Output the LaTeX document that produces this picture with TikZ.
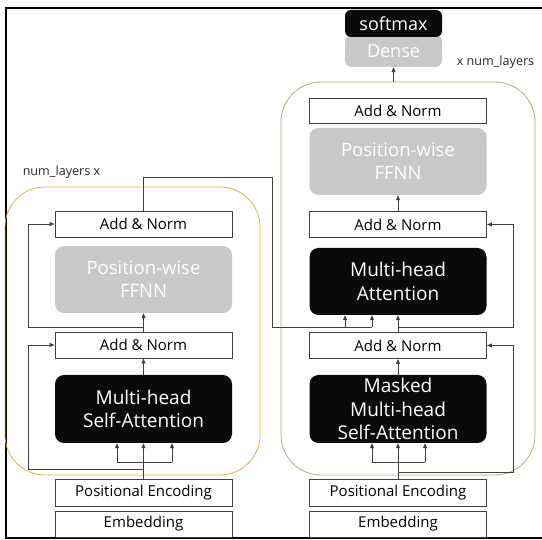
\documentclass[tikz,border=0pt]{standalone}
\usepackage{fontspec}
\setmainfont{Open Sans}
\usetikzlibrary{arrows.meta}

\definecolor{linegray}{HTML}{404040}
\definecolor{boxblack}{HTML}{0A0A0A}
\definecolor{boxgray}{HTML}{C8C8C8}
\definecolor{encgold}{HTML}{D9B43E}
\definecolor{decgold}{HTML}{BBA57A}

\tikzset{
  plainbox/.style={draw=linegray, line width=0.9pt, fill=white, text=black,
    minimum width=177pt, minimum height=26pt, inner sep=0pt,
    font=\fontsize{15}{18}\selectfont},
  darkbox/.style={fill=boxblack, rounded corners=9pt, text=white, align=center,
    minimum width=177pt, inner sep=0pt, font=\fontsize{19}{23.5}\selectfont},
  lightbox/.style={fill=boxgray, rounded corners=9pt, text=white, align=center,
    minimum width=177pt, inner sep=0pt, font=\fontsize{18.5}{23}\selectfont},
  stackbox/.style={rounded corners=40pt, line width=0.8pt},
  flow/.style={draw=linegray, line width=0.8pt},
  arr/.style={flow, -{Triangle[length=5pt,width=4pt]}},
  caption/.style={inner sep=0pt, font=\fontsize{12.6}{15}\selectfont, text=black!85}
}

\begin{document}
\begin{tikzpicture}[x=1pt,y=-1pt]
  \useasboundingbox (0,0) rectangle (542,540);

  % outer frame (open to the right)
  \draw[line width=1.6pt] (542,8) -| (6,538) -- (542,538);

  % layer stacks
  \node[stackbox, draw=encgold, minimum width=255pt, minimum height=288pt] (enc) at (132.5,331) {};
  \node[stackbox, draw=decgold, minimum width=254pt, minimum height=393pt] (dec) at (408,278.5) {};

  \node[caption] (encrep) at (61.5,172) {num\_layers x};
  \node[caption] (decrep) at (495.5,62) {x num\_layers};

  % encoder column
  \node[plainbox, minimum height=26pt] (eEmb) at (143.5,524) {Embedding};
  \node[plainbox, minimum height=27pt] (ePE)  at (143.5,492.5) {Positional Encoding};
  \node[darkbox, minimum height=68pt] (eMHA) at (143.5,409) {Multi-head\\Self-Attention};
  \node[plainbox] (eAN1) at (143.5,345) {Add \& Norm};
  \node[lightbox, minimum height=67pt] (eFF) at (143.5,279.5) {Position-wise\\FFNN};
  \node[plainbox] (eAN2) at (143.5,224) {Add \& Norm};

  % decoder column
  \node[plainbox, minimum height=26pt] (dEmb) at (398,524) {Embedding};
  \node[plainbox, minimum height=27pt] (dPE)  at (398,493) {Positional Encoding};
  \node[darkbox, minimum height=68pt] (dMask) at (398,409) {Masked\\Multi-head\\Self-Attention};
  \node[plainbox] (dAN1) at (398,345.5) {Add \& Norm};
  \node[darkbox, minimum height=67pt] (dMHA) at (398,281.5) {Multi-head\\Attention};
  \node[plainbox] (dAN2) at (398,224.5) {Add \& Norm};
  \node[lightbox, minimum height=67pt] (dFF) at (398,161.5) {Position-wise\\FFNN};
  \node[plainbox, minimum height=25pt] (dAN3) at (398,110.5) {Add \& Norm};

  % output head
  \node[lightbox, minimum width=97pt, minimum height=32pt, rounded corners=7pt,
        font=\fontsize{18}{20}\selectfont] (dense) at (393.5,51) {Dense};
  \node[darkbox, minimum width=97pt, minimum height=27pt, rounded corners=6pt,
        font=\fontsize{18}{20}\selectfont] (soft) at (393.5,23.5) {softmax};

  % rails and junctions
  \coordinate (eRail) at (28,0);
  \coordinate (dRail) at (513,0);
  \coordinate (eQ) at (117,462);
  \coordinate (eK) at (172,462);
  \coordinate (eR1) at (143.5,469);
  \coordinate (eR2) at (143.5,327);
  \coordinate (dQ) at (372,462);
  \coordinate (dK) at (425,462);
  \coordinate (dR1) at (398,472);
  \coordinate (dR2) at (398,327);
  \coordinate (xTop) at (272,177);
  \coordinate (xLow) at (272,327);
  \coordinate (kv1) at (345,327);
  \coordinate (kv2) at (372,327);

  % encoder flow
  \draw[arr] (ePE.north) -- (eMHA.south);
  \draw[flow] (eQ) -- (eK);
  \draw[arr] (eQ) -- (eQ |- eMHA.south);
  \draw[arr] (eK) -- (eK |- eMHA.south);
  \draw[arr] (eR1) -- (eR1 -| eRail) |- (eAN1.west);
  \draw[arr] (eMHA.north) -- (eAN1.south);
  \draw[arr] (eAN1.north) -- (eFF.south);
  \draw[arr] (eR2) -- (eR2 -| eRail) |- (eAN2.west);

  % encoder output into the decoder attention
  \draw[flow] (eAN2.north) |- (xTop) -- (xLow) -- (kv2);
  \draw[arr] (kv1) -- (kv1 |- dMHA.south);
  \draw[arr] (kv2) -- (kv2 |- dMHA.south);

  % decoder flow
  \draw[arr] (dPE.north) -- (dMask.south);
  \draw[flow] (dQ) -- (dK);
  \draw[arr] (dQ) -- (dQ |- dMask.south);
  \draw[arr] (dK) -- (dK |- dMask.south);
  \draw[arr] (dR1) -- (dR1 -| dRail) |- (dAN1.east);
  \draw[arr] (dMask.north) -- (dAN1.south);
  \draw[arr] (dAN1.north) -- (dMHA.south);
  \draw[arr] (dR2) -- (dR2 -| dRail) |- (dAN2.east);
  \draw[arr] (dAN2.north) -- (dFF.south);
  \draw[arr] (dec.north -| dense.south) -- (dense.south);
\end{tikzpicture}
\end{document}
